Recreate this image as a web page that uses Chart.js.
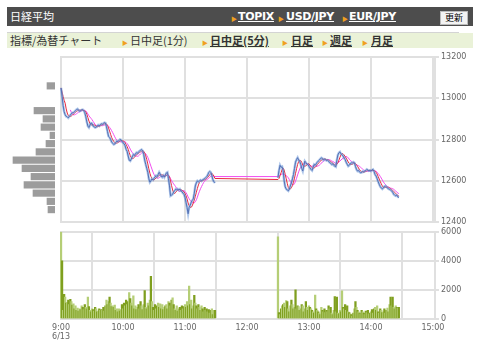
<!DOCTYPE html>
<html>
<head>
<meta charset="utf-8">
<script src="https://cdn.jsdelivr.net/npm/chart.js@4.4.1/dist/chart.umd.min.js"></script>
<style>
  body { margin:0; width:480px; height:352px; background:#fff; position:relative; overflow:hidden;
         font-family:"Noto Sans CJK JP", sans-serif; }
  .abs { position:absolute; white-space:nowrap; }
  #hdr { left:7px; top:7px; width:466px; height:19px; background:#4d4d4d; }
  #tabs { left:7px; top:33px; width:466px; height:15px; background:#eaf2d8; }
  #sep { left:7px; top:32px; width:452px; height:1px; background:#d4d4d4; }
  .ht { color:#fff; font-size:11px; line-height:19px; top:7px; }
  .hl { color:#fff; font-size:11px; line-height:19px; top:7px; font-weight:bold; text-decoration:underline; font-family:"DejaVu Sans", sans-serif; letter-spacing:-0.3px; }
  .arr { color:#f0a020; font-size:6px; }
  .tt { color:#333; font-size:11px; line-height:15px; top:33px; }
  .tl { font-weight:bold; text-decoration:underline; }
  #btn { left:440px; top:11px; width:26px; height:12px; background:#f3f3f3; border:1px solid #bbb;
         font-size:9px; line-height:12px; text-align:center; color:#000; }
  canvas { position:absolute; }
</style>
</head>
<body>
<div id="hdr" class="abs"></div>
<div class="abs ht" style="left:10px">日経平均</div>
<div class="abs arr" style="left:231px;top:14px">▶</div>
<div class="abs hl" style="left:238px">TOPIX</div>
<div class="abs arr" style="left:278px;top:14px">▶</div>
<div class="abs hl" style="left:286px">USD/JPY</div>
<div class="abs arr" style="left:342px;top:14px">▶</div>
<div class="abs hl" style="left:349px">EUR/JPY</div>
<div id="btn" class="abs">更新</div>

<div id="sep" class="abs"></div>
<div id="tabs" class="abs"></div>
<div class="abs tt" style="left:10px">指標/為替チャート</div>
<div class="abs arr" style="left:122px;top:38px">▶</div>
<div class="abs tt" style="left:130px">日中足(1分)</div>
<div class="abs arr" style="left:202px;top:38px">▶</div>
<div class="abs tt tl" style="left:210px">日中足(5分)</div>
<div class="abs arr" style="left:282px;top:38px">▶</div>
<div class="abs tt tl" style="left:291px">日足</div>
<div class="abs arr" style="left:322px;top:38px">▶</div>
<div class="abs tt tl" style="left:330px">週足</div>
<div class="abs arr" style="left:362px;top:38px">▶</div>
<div class="abs tt tl" style="left:371px">月足</div>

<canvas id="profile" width="60" height="180" style="left:0;top:50px"></canvas>
<canvas id="price" width="480" height="180" style="left:0;top:50px"></canvas>
<canvas id="volume" width="480" height="125" style="left:0;top:225px"></canvas>

<script>
// 1 minute bars, minutes after 9:00
var amStart = 0;
var pmStart = 210;

var closeAM = [
  13050, 13010, 12965, 12935, 12920, 12912, 12910, 12905, 12912, 12918,
  12925, 12930, 12930, 12935, 12940, 12945, 12948, 12942, 12937, 12940,
  12944, 12945, 12940, 12930, 12910, 12885, 12865, 12858, 12870, 12880,
  12878, 12866, 12862, 12858, 12860, 12864, 12870, 12866, 12872, 12876,
  12874, 12878, 12882, 12880, 12862, 12838, 12815, 12810, 12800, 12788,
  12782, 12776, 12778, 12786, 12792, 12790, 12795, 12800, 12798, 12792,
  12784, 12780, 12770, 12752, 12742, 12720, 12700, 12696, 12705, 12716,
  12727, 12722, 12730, 12736, 12733, 12740, 12744, 12748, 12751, 12745,
  12728, 12700, 12679, 12660, 12641, 12610, 12593, 12600, 12609, 12604,
  12612, 12618, 12625, 12620, 12630, 12641, 12632, 12622, 12617, 12625,
  12617, 12628, 12638, 12641, 12610, 12575, 12527, 12530, 12535, 12545,
  12552, 12559, 12556, 12560, 12555, 12559, 12551, 12548, 12540, 12535,
  12520, 12495, 12470, 12440, 12471, 12480, 12495, 12505, 12511, 12540,
  12575, 12590, 12599, 12595, 12599, 12603, 12599, 12605, 12607, 12610,
  12615, 12620, 12628, 12640, 12645, 12640, 12625, 12605, 12595, 12590
];
var closePM = [
  12615, 12650, 12675, 12665, 12668, 12650, 12600, 12570, 12560, 12555,
  12551, 12560, 12575, 12590, 12609, 12630, 12660, 12690, 12703, 12712,
  12700, 12695, 12680, 12660, 12647, 12672, 12695, 12688, 12680, 12679,
  12670, 12662, 12655, 12650, 12665, 12679, 12675, 12682, 12690, 12695,
  12700, 12706, 12711, 12708, 12700, 12705, 12703, 12698, 12700, 12695,
  12688, 12685, 12679, 12682, 12675, 12671, 12668, 12700, 12725, 12736,
  12740, 12730, 12727, 12720, 12710, 12703, 12690, 12680, 12671, 12675,
  12682, 12687, 12685, 12690, 12687, 12670, 12655, 12647, 12650, 12642,
  12639, 12640, 12645, 12643, 12647, 12650, 12655, 12652, 12648, 12650,
  12647, 12652, 12655, 12645, 12630, 12623, 12610, 12595, 12583, 12572,
  12565, 12560, 12565, 12572, 12575, 12570, 12565, 12560, 12558, 12555,
  12551, 12545, 12535, 12530, 12527, 12530, 12522, 12519
];

var volumeAM = [
  6000, 4000, 600, 1700, 1500, 1100, 1150, 1300, 1000, 1350,
  1200, 950, 1050, 700, 900, 600, 750, 550, 700, 650,
  900, 800, 650, 1000, 800, 700, 1500, 850, 600, 500,
  700, 650, 550, 800, 700, 500, 550, 700, 600, 650,
  600, 800, 550, 900, 1300, 1000, 1200, 1500, 1100, 850,
  900, 800, 950, 600, 700, 500, 700, 550, 650, 1000,
  700, 1100, 900, 1300, 1000, 1200, 1820, 1400, 1100, 900,
  1600, 700, 900, 650, 800, 1000, 700, 1200, 900, 650,
  1000, 1950, 800, 700, 1100, 900, 1300, 2930, 1200, 800,
  600, 1000, 700, 900, 1100, 800, 1050, 700, 1000, 650,
  800, 900, 1000, 700, 1200, 1100, 900, 1300, 1450, 1000,
  700, 600, 900, 550, 700, 800, 600, 900, 700, 850,
  1000, 800, 1200, 900, 2270, 1000, 1300, 700, 900, 1630,
  1100, 900, 700, 1000, 800, 600, 900, 700, 500, 800,
  600, 700, 500, 650, 400, 600, 700, 300, 600, 600
];
var volumePM = [
  5650, 450, 300, 700, 900, 1000, 1100, 800, 1270, 1200,
  700, 500, 900, 1300, 1000, 700, 800, 2000, 700, 900,
  850, 600, 700, 1000, 900, 500, 700, 1200, 800, 600,
  900, 800, 700, 600, 500, 400, 1640, 700, 600, 500,
  400, 300, 800, 600, 500, 700, 450, 600, 500, 900,
  700, 800, 400, 300, 600, 1540, 500, 1500, 400, 350,
  600, 500, 1930, 800, 700, 1000, 600, 900, 500, 450,
  350, 300, 200, 400, 700, 1200, 800, 600, 500, 400,
  350, 600, 500, 400, 300, 550, 450, 600, 350, 400,
  500, 650, 400, 700, 800, 600, 900, 500, 400, 700,
  600, 450, 500, 700, 400, 600, 750, 500, 1000, 1500,
  900, 1500, 800, 700, 900, 800, 750, 800
];

// price band volume (left side)
var profilePrices = [13060, 12940, 12900, 12860, 12820, 12780, 12740, 12700, 12660, 12620, 12580, 12540, 12500, 12460];
var profileVolumes = [8, 21, 12, 14, 5, 9, 19, 42, 33, 24, 31, 22, 8, 7];

var priceTicks = [12400, 12600, 12800, 13000, 13200];
var volumeTicks = [0, 2000, 4000, 6000];
var timeTicks = [0, 60, 120, 180, 240, 300, 360];
var timeLabels = ['9:00', '10:00', '11:00', '12:00', '13:00', '14:00', '15:00'];
var dateLabel = '6/13';

var maShort = 5;
var maLong = 10;

function toPoints(arr, start) {
  return arr.map(function (v, i) { return { x: start + i, y: v }; });
}

// moving average over the bar sequence (lunch break skipped)
function sma(pts, n, partial) {
  return pts.map(function (p, i) {
    if (i < n - 1 && !partial) return { x: p.x, y: null };
    var s = pts.slice(Math.max(0, i - n + 1), i + 1);
    var sum = 0;
    s.forEach(function (q) { sum += q.y; });
    return { x: p.x, y: sum / s.length };
  });
}

var allClose = toPoints(closeAM, amStart).concat(toPoints(closePM, pmStart));
var closePts = toPoints(closeAM, amStart).concat([{ x: amStart + closeAM.length, y: null }], toPoints(closePM, pmStart));
var maShortPts = sma(allClose, maShort, true);
var maLongPts = sma(allClose, maLong, false);
var volPts = toPoints(volumeAM, amStart).concat(toPoints(volumePM, pmStart));

var gridColor = '#e0e0e0';
var tickFont = { family: 'DejaVu Sans', size: 8 };

function fixTicks(values) {
  return function (scale) { scale.ticks = values.map(function (v) { return { value: v }; }); };
}
function plainLabel(v) { return String(v); }

function lineSet(data, color, width) {
  return { data: data, borderColor: color, borderWidth: width, pointRadius: 0, tension: 0, fill: false, spanGaps: false };
}

var common = {
  responsive: false,
  animation: false,
  events: [],
  plugins: { legend: { display: false }, tooltip: { enabled: false } }
};

new Chart(document.getElementById('price'), {
  type: 'line',
  data: {
    datasets: [
      lineSet(closePts, 'rgba(120,160,220,0.6)', 2.5),
      lineSet(closePts, '#1c2a7a', 1),
      lineSet(maShortPts, '#e8283c', 1),
      lineSet(maLongPts, '#f04cf0', 1)
    ]
  },
  options: Object.assign({}, common, {
    layout: { padding: { left: 60, top: 7, bottom: 8, right: 0 } },
    scales: {
      x: {
        type: 'linear', min: -1, max: 362,
        afterBuildTicks: fixTicks(timeTicks),
        afterFit: function (s) { s.height = 0; },
        ticks: { display: false },
        grid: { color: gridColor, lineWidth: 2, drawTicks: false },
        border: { display: false }
      },
      y: {
        position: 'right', min: 12400, max: 13200,
        afterBuildTicks: fixTicks(priceTicks),
        afterFit: function (s) { s.width = 45; },
        ticks: { color: '#666', font: tickFont, padding: 2, callback: plainLabel },
        grid: { color: gridColor, lineWidth: 2, tickLength: 4 },
        border: { color: gridColor, width: 2 }
      }
    }
  })
});

new Chart(document.getElementById('volume'), {
  type: 'bar',
  data: {
    datasets: [{
      data: volPts,
      barThickness: 1.6,
      backgroundColor: function (ctx) { return ctx.dataIndex % 2 ? '#7f9f1f' : '#b5ce76'; }
    }]
  },
  options: Object.assign({}, common, {
    layout: { padding: { left: 60, top: 4, bottom: 0, right: 0 } },
    scales: {
      x: {
        type: 'linear', min: -1, max: 362, offset: false,
        afterBuildTicks: fixTicks(timeTicks),
        afterFit: function (s) { s.height = 31; },
        ticks: {
          color: '#666', font: tickFont, padding: 4, maxRotation: 0, autoSkip: false,
          callback: function (v) {
            var i = timeTicks.indexOf(v);
            return i === 0 ? [timeLabels[i], dateLabel] : timeLabels[i];
          }
        },
        grid: { color: gridColor, lineWidth: 2, drawTicks: false },
        border: { display: false }
      },
      y: {
        position: 'right', min: 0, max: 6000,
        afterBuildTicks: fixTicks(volumeTicks),
        afterFit: function (s) { s.width = 45; },
        ticks: { color: '#666', font: tickFont, padding: 2, callback: plainLabel },
        grid: { color: gridColor, lineWidth: 2, tickLength: 4 },
        border: { color: gridColor, width: 2 }
      }
    }
  })
});

new Chart(document.getElementById('profile'), {
  type: 'bar',
  data: {
    datasets: [{
      data: profilePrices.map(function (p, i) { return { x: profileVolumes[i], y: p }; }),
      backgroundColor: '#9c9c9c',
      barThickness: 6.5
    }]
  },
  options: Object.assign({}, common, {
    indexAxis: 'y',
    layout: { padding: { left: 0, top: 7, bottom: 8, right: 5 } },
    scales: {
      x: { type: 'linear', display: false, reverse: true, min: 0, max: 55 },
      y: { type: 'linear', display: false, offset: false, min: 12400, max: 13200 }
    }
  })
});
</script>
</body>
</html>
